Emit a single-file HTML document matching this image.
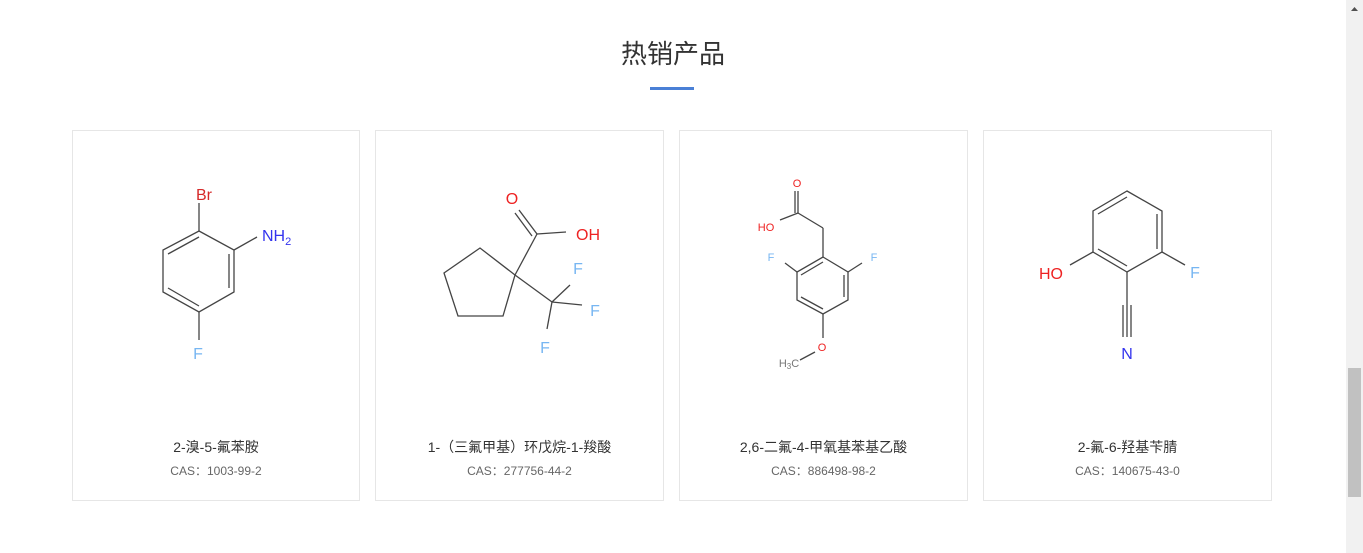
<!DOCTYPE html>
<html><head><meta charset="utf-8">
<style>
html,body{margin:0;padding:0;background:#fff;width:1363px;height:553px;overflow:hidden;position:relative;font-family:"Liberation Sans","Noto Sans CJK SC",sans-serif;}
.title{position:absolute;left:0;width:1346px;top:36px;text-align:center;font-size:26px;color:#333;line-height:36px;}
.bar{position:absolute;left:650px;top:87px;width:44px;height:3px;background:#4a80d6;}
.card{position:absolute;top:130px;height:370px;border:1px solid #e6e6e6;box-sizing:border-box;height:371px;}
.name{position:absolute;left:0;right:0;top:306px;text-align:center;font-size:14px;color:#333;}
.cas{position:absolute;left:0;right:0;top:331px;text-align:center;font-size:12px;color:#666;}
.sb{position:absolute;left:1346px;top:0;width:17px;height:553px;background:#f1f1f1;}
.th{position:absolute;left:1348px;top:368px;width:13px;height:129px;background:#c1c1c1;}
svg{position:absolute;left:0;top:0;}
svg text{font-family:"Liberation Sans",sans-serif;}
</style></head><body>
<div class="title">热销产品</div>
<div class="bar"></div>
<div class="card" style="left:72px;width:288px"><div class="name">2-溴-5-氟苯胺</div><div class="cas">CAS：1003-99-2</div></div>
<div class="card" style="left:375px;width:289px"><div class="name">1-（三氟甲基）环戊烷-1-羧酸</div><div class="cas">CAS：277756-44-2</div></div>
<div class="card" style="left:679px;width:289px"><div class="name">2,6-二氟-4-甲氧基苯基乙酸</div><div class="cas">CAS：886498-98-2</div></div>
<div class="card" style="left:983px;width:289px"><div class="name">2-氟-6-羟基苄腈</div><div class="cas">CAS：140675-43-0</div></div>
<div class="sb"></div><div class="th"></div>
<svg width="1363" height="553">
<polygon points="1351,11 1358,11 1354.5,7" fill="#505050"/>
<g stroke="#444" stroke-width="1.3" fill="none">
<!-- mol1 -->
<polygon points="199,231 234,250 234,292 199,312 163,292 163,250"/>
<line x1="199" y1="237" x2="168" y2="254"/><line x1="229" y1="254" x2="229" y2="288"/><line x1="199" y1="306" x2="168" y2="288"/>
<line x1="199" y1="231" x2="199" y2="203"/><line x1="234" y1="250" x2="257" y2="237"/><line x1="199" y1="312" x2="199" y2="340"/>
<!-- mol2 -->
<polygon points="515,275 480,248 444,273 458,316 503,316"/>
<line x1="515" y1="275" x2="537" y2="234"/><line x1="537" y1="234" x2="519" y2="210"/><line x1="532" y1="236" x2="515" y2="213"/>
<line x1="537" y1="234" x2="566" y2="232"/><line x1="515" y1="275" x2="552" y2="302"/>
<line x1="552" y1="302" x2="570" y2="285"/><line x1="552" y1="302" x2="582" y2="305"/><line x1="552" y1="302" x2="547" y2="329"/>
<!-- mol3 -->
<polygon points="823,257 848,272 848,300 823,314 797,300 797,272"/>
<line x1="823" y1="262" x2="801" y2="275"/><line x1="844" y1="275" x2="844" y2="297"/><line x1="823" y1="309" x2="801" y2="297"/>
<line x1="823" y1="257" x2="823" y2="228"/><line x1="823" y1="228" x2="798" y2="213"/><line x1="798" y1="213" x2="798" y2="191"/><line x1="795" y1="213" x2="795" y2="191"/>
<line x1="798" y1="213" x2="780" y2="220"/><line x1="797" y1="272" x2="785" y2="263"/><line x1="848" y1="272" x2="862" y2="263"/>
<line x1="823" y1="314" x2="823" y2="338"/><line x1="815" y1="352" x2="800" y2="360"/>
<!-- mol4 -->
<polygon points="1127,191 1162,211 1162,252 1127,272 1093,252 1093,211"/>
<line x1="1127" y1="197" x2="1098" y2="214"/><line x1="1157" y1="214" x2="1157" y2="249"/><line x1="1127" y1="266" x2="1098" y2="249"/>
<line x1="1093" y1="252" x2="1070" y2="265"/><line x1="1162" y1="252" x2="1185" y2="265"/>
<line x1="1127" y1="272" x2="1127" y2="337"/><line x1="1123" y1="305" x2="1123" y2="337"/><line x1="1131" y1="305" x2="1131" y2="337"/>
</g>
<g font-size="16">
<text x="204" y="200" text-anchor="middle" fill="#d62a2a">Br</text>
<text x="262" y="241" fill="#3333ee">NH<tspan font-size="11" dy="4">2</tspan></text>
<text x="198" y="359" text-anchor="middle" fill="#77b6f2">F</text>
<text x="512" y="204" text-anchor="middle" fill="#ee2222">O</text>
<text x="588" y="240" text-anchor="middle" fill="#ee2222">OH</text>
<text x="578" y="274" text-anchor="middle" fill="#77b6f2">F</text>
<text x="595" y="316" text-anchor="middle" fill="#77b6f2">F</text>
<text x="545" y="353" text-anchor="middle" fill="#77b6f2">F</text>
<text x="1051" y="279" text-anchor="middle" fill="#ee2222">HO</text>
<text x="1195" y="278" text-anchor="middle" fill="#77b6f2">F</text>
<text x="1127" y="359" text-anchor="middle" fill="#3333ee">N</text>
</g>
<g font-size="11">
<text x="797" y="187" text-anchor="middle" fill="#ee2222">O</text>
<text x="766" y="231" text-anchor="middle" fill="#ee2222">HO</text>
<text x="771" y="261" text-anchor="middle" fill="#77b6f2">F</text>
<text x="874" y="261" text-anchor="middle" fill="#77b6f2">F</text>
<text x="822" y="351" text-anchor="middle" fill="#ee2222">O</text>
<text x="789" y="367" text-anchor="middle" fill="#777">H<tspan font-size="8" dy="2">3</tspan><tspan dy="-2">C</tspan></text>
</g>
</svg>
</body></html>
